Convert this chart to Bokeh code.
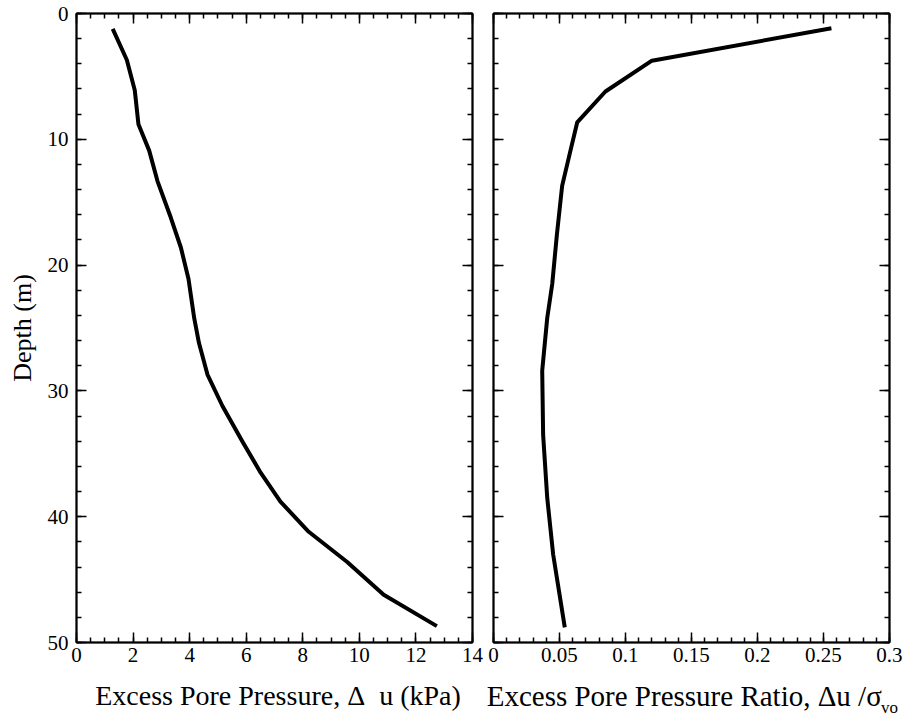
from bokeh.plotting import figure
from bokeh.layouts import row
from bokeh.models import (Range1d, LinearAxis, SingleIntervalTicker, FixedTicker,
                          CustomJSTickFormatter)
from bokeh.embed import file_html
from bokeh.resources import INLINE

# ---- data ----
depth_u = [1.22, 3.7, 6.1, 8.8, 10.9, 13.3, 16.2, 18.6, 21.1, 24.2, 26.2, 28.7,
           31.2, 34.0, 36.5, 38.8, 41.2, 43.6, 46.2, 48.7]
excess_u = [1.28, 1.78, 2.06, 2.19, 2.57, 2.86, 3.33, 3.69, 3.96, 4.16, 4.33, 4.63,
            5.16, 5.86, 6.51, 7.21, 8.21, 9.57, 10.86, 12.74]
depth_r = [1.17, 3.75, 6.2, 8.66, 10.9, 13.7, 17.6, 21.5, 24.2, 28.4, 33.5, 38.5,
           43.0, 48.8]
ratio_r = [0.256, 0.120, 0.0848, 0.0634, 0.0583, 0.052, 0.048, 0.0445, 0.0407,
           0.0369, 0.0376, 0.0407, 0.0452, 0.054]

xlabel_left = "\u00a0Excess Pore Pressure, \u0394\u00a0 u (kPa)"
xlabel_right = "Excess Pore Pressure Ratio, \u0394u /\u03c3\u00a0\u00a0"
xlabel_right_sub = "vo"
ylabel = "Depth (m)"

FONT = "Liberation Serif"
FRAME_W = 396
FRAME_H = 629
TOP = 13
BOTTOM = 721 - TOP - FRAME_H


def blank():
    return CustomJSTickFormatter(code="return '';")


def style_axis(ax, labels=True):
    ax.axis_line_color = "black"
    ax.axis_line_width = 2
    ax.major_tick_in = 10
    ax.major_tick_out = 0
    ax.minor_tick_in = 5
    ax.minor_tick_out = 0
    ax.major_tick_line_color = "black"
    ax.minor_tick_line_color = "black"
    ax.major_tick_line_width = 1.5
    ax.minor_tick_line_width = 1.5
    ax.major_label_text_font = FONT
    ax.major_label_text_color = "black"
    if labels:
        ax.major_label_text_font_size = "21px"
    else:
        ax.formatter = blank()
        ax.major_label_text_font_size = "0px"
        ax.major_label_standoff = 0


def make_fig(xr, xint, xminor, left_border, right_border, ylabels, xlabel, xlabel_size):
    p = figure(width=left_border + FRAME_W + right_border, height=721,
               x_range=Range1d(*xr), y_range=Range1d(50, 0),
               output_backend="svg", toolbar_location=None,
               min_border_left=left_border, min_border_right=right_border,
               min_border_top=TOP, min_border_bottom=BOTTOM)
    p.xgrid.visible = False
    p.ygrid.visible = False
    p.outline_line_color = "black"
    p.outline_line_width = 1.5
    p.background_fill_color = "white"
    p.border_fill_color = "white"

    xt = SingleIntervalTicker(interval=xint, num_minor_ticks=xminor)
    yt = SingleIntervalTicker(interval=10, num_minor_ticks=5)

    xa = p.xaxis[0]
    ya = p.yaxis[0]
    xa.ticker = xt
    ya.ticker = yt
    style_axis(xa, True)
    xa.major_label_standoff = 5
    xa.axis_label = xlabel
    xa.axis_label_text_font = FONT
    xa.axis_label_text_font_style = "normal"
    xa.axis_label_text_font_size = xlabel_size
    xa.axis_label_text_color = "black"
    xa.axis_label_standoff = 15

    style_axis(ya, ylabels)
    if ylabels:
        ya.major_label_standoff = 8
        ya.axis_label = ylabel
        ya.axis_label_text_font = FONT
        ya.axis_label_text_font_style = "normal"
        ya.axis_label_text_font_size = "26px"
        ya.axis_label_text_color = "black"
        ya.axis_label_standoff = 8

    top = LinearAxis(ticker=xt)
    style_axis(top, False)
    p.add_layout(top, "above")
    right = LinearAxis(ticker=yt)
    style_axis(right, False)
    p.add_layout(right, "right")
    return p, xa


# ---- left panel ----
p1, xa1 = make_fig((0, 14), 2, 4, 76, 11, True, xlabel_left, "28px")
p1.line(excess_u, depth_u, line_width=4, line_color="black", line_join="round")

# ---- right panel ----
p2, xa2 = make_fig((0, 0.3000001), 0.05, 5, 10, 14, False, xlabel_right, "29px")
xa2.formatter = CustomJSTickFormatter(
    code="var s = tick.toFixed(2); s = s.replace(/0+$/, ''); s = s.replace(/\\.$/, ''); return s;")
p2.line(ratio_r, depth_r, line_width=4, line_color="black", line_join="round")

# subscript of the right-hand axis title, as a label-only axis under it
sub_axis = LinearAxis(ticker=FixedTicker(ticks=[]), formatter=blank(),
                      axis_line_color=None, major_tick_line_color=None,
                      minor_tick_line_color=None, major_label_standoff=0,
                      major_label_text_font_size="0px",
                      major_tick_in=0, major_tick_out=0,
                      minor_tick_in=0, minor_tick_out=0,
                      axis_label=xlabel_right_sub, axis_label_align="end",
                      axis_label_standoff=-17,
                      axis_label_text_font=FONT,
                      axis_label_text_font_style="normal",
                      axis_label_text_font_size="17px",
                      axis_label_text_color="black")
p2.add_layout(sub_axis, "below")

layout = row(p1, p2, spacing=0)
open("out.html", "w").write(file_html(layout, INLINE))
